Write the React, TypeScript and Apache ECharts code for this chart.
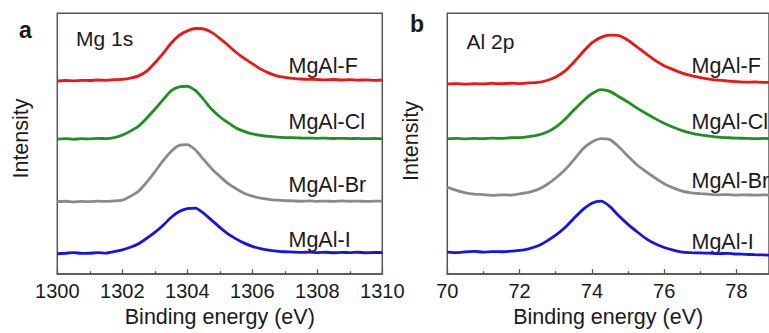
import React, { useEffect, useRef } from "react";
import * as echarts from "echarts";

// Binding energies (eV)
const energyMg = [1300, 1300.25, 1300.5, 1300.75, 1301, 1301.25, 1301.5, 1301.75, 1302, 1302.25, 1302.5, 1302.75, 1303, 1303.25, 1303.5, 1303.75, 1304, 1304.25, 1304.5, 1304.75, 1305, 1305.25, 1305.5, 1305.75, 1306, 1306.25, 1306.5, 1306.75, 1307, 1307.25, 1307.5, 1307.75, 1308, 1308.25, 1308.5, 1308.75, 1309, 1309.25, 1309.5, 1309.75, 1310];
const energyAl = [70, 70.25, 70.5, 70.75, 71, 71.25, 71.5, 71.75, 72, 72.25, 72.5, 72.75, 73, 73.25, 73.5, 73.75, 74, 74.25, 74.5, 74.75, 75, 75.25, 75.5, 75.75, 76, 76.25, 76.5, 76.75, 77, 77.25, 77.5, 77.75, 78, 78.25, 78.5, 78.75, 79];

// Mg 1s spectra (offset intensities, a.u.)
const mgF = [194.5, 195, 194.7, 195.2, 195, 195.5, 195.2, 195.8, 196.2, 197.4, 199.7, 204.5, 212.7, 222, 232.5, 240.5, 245, 247.4, 247, 243.5, 237.5, 230.5, 223.5, 217.2, 212, 206.7, 202.7, 199.7, 198.2, 197.2, 196.5, 196.2, 196, 195.7, 196, 195.5, 195.8, 195.4, 195.6, 195.2, 195.5];
const mgCl = [136, 136.5, 135.8, 136.4, 136.2, 136.7, 136.5, 137.4, 140, 144, 149, 157, 166, 175.5, 184.5, 188.5, 189.2, 185, 176, 166, 158.5, 152.5, 147.2, 143.7, 141.2, 139.8, 138.7, 138, 137.5, 137.4, 137.1, 137, 136.8, 137, 136.6, 136.8, 136.5, 136.7, 136.4, 136.6, 136.5];
const mgBr = [73, 73.4, 72.7, 73.2, 73, 73.5, 73.2, 73.7, 74.5, 78.5, 83.5, 92.5, 103, 114, 123.5, 129.7, 130.5, 125, 115.5, 106.2, 98.5, 91.3, 86, 81.5, 78.5, 76.5, 75.3, 74.5, 74, 73.8, 73.4, 73.7, 73.3, 73.6, 73.2, 73.7, 73.4, 73.6, 73.2, 73.5, 73.4];
const mgI = [20.5, 21, 21.7, 20.8, 21, 21.6, 21.2, 22.7, 24.5, 27, 30.5, 36, 42, 49, 57, 63, 66, 66.5, 61.5, 54.3, 47, 40.5, 35.5, 31.2, 28, 25.7, 24.2, 23.2, 22.5, 22.2, 21.8, 22.2, 21.7, 22, 21.5, 21.9, 21.6, 22, 21.5, 21.8, 21.7];

// Al 2p spectra (offset intensities, a.u.)
const alF = [193, 193.4, 192.8, 193.3, 193, 193.5, 193.2, 193.7, 193.4, 194, 194.5, 196.5, 200, 206, 215, 225.5, 234.7, 240.3, 242.5, 242, 237.3, 230.5, 223.5, 217, 211.5, 207.5, 204, 201.5, 199.5, 198, 196.8, 196, 195.3, 194.8, 195, 194.6, 194.7];
const alCl = [137.5, 137.8, 137.3, 137.7, 137.5, 138, 137.7, 138.4, 138.5, 139.5, 141, 144, 149.2, 157, 166.5, 175.5, 183, 187.2, 185.5, 180, 174.5, 168.5, 163, 157.8, 153, 149, 145.7, 143, 141.2, 140, 139, 138.5, 138, 137.8, 137.5, 137.7, 137.4];
const alBr = [88, 85, 82.5, 81.2, 80.7, 80, 80.5, 80.2, 81.5, 83, 85.7, 90.7, 97.5, 105.7, 116, 127, 134, 137.5, 136.5, 129, 119.5, 110.7, 104, 97.5, 91.7, 87.5, 84.2, 82.5, 81.7, 81, 80.5, 80.7, 80.2, 80.5, 80.1, 80.4, 80.2];
const alI = [22.3, 21.8, 22.5, 23, 22.4, 22.9, 22.7, 23.3, 24, 25.7, 28.5, 33.5, 39.5, 47, 56.5, 65.5, 72, 74, 68.5, 59, 50.5, 43, 36, 30.7, 27, 24.3, 22.3, 21.8, 21.5, 21.2, 20.8, 21, 20.4, 20.1, 19.7, 19.5, 19.2];

const sampleNames = ["MgAl-F", "MgAl-Cl", "MgAl-Br", "MgAl-I"];
const sampleColors = ["#f01414", "#1f8f1f", "#8a8a8a", "#1414e8"];
const panelTitles = ["Mg 1s", "Al 2p"];
const panelLetters = ["a", "b"];
const xTitle = "Binding energy (eV)";
const yTitle = "Intensity";

const FONT = "Arial, 'Liberation Sans', Helvetica, sans-serif";
const TEXT = "#1a1a1a";
const FRAME = "#555555";

function txt(text: string, x: number, y: number, size: number, extra: any = {}) {
  return {
    type: "text",
    x,
    y,
    rotation: extra.rotation || 0,
    style: {
      text,
      fontSize: size,
      fontFamily: FONT,
      fontWeight: extra.bold ? "bold" : "normal",
      fill: TEXT,
      align: extra.align || "left",
      verticalAlign: "middle",
      textAlign: extra.align || "left",
      textVerticalAlign: "middle",
    },
  };
}

export default function App() {
  const ref = useRef<HTMLDivElement>(null);
  useEffect(() => {
    if (!ref.current) return;
    const chart = echarts.init(ref.current, undefined, { renderer: "svg" });

    const xAxisCommon = (idx: number, min: number, max: number) => ({
      type: "value",
      gridIndex: idx,
      min,
      max,
      interval: 2,
      name: xTitle,
      nameLocation: "middle",
      nameGap: 28,
      nameTextStyle: { fontSize: 21.5, fontFamily: FONT, color: TEXT },
      axisLine: { show: true, lineStyle: { color: FRAME, width: 1.5 } },
      axisTick: { show: true, inside: true, length: 5, lineStyle: { color: FRAME, width: 1.2 } },
      minorTick: { show: true, splitNumber: 2, length: 3, lineStyle: { color: FRAME, width: 1.2 } },
      splitLine: { show: false },
      minorSplitLine: { show: false },
      axisLabel: {
        fontSize: 20,
        fontFamily: FONT,
        color: TEXT,
        margin: 7,
        showMaxLabel: idx === 0,
        formatter: (v: number) => String(v),
      },
    });
    const yAxisCommon = (idx: number, max: number) => ({
      type: "value",
      gridIndex: idx,
      min: 0,
      max,
      show: false,
    });

    const mgSets = [mgF, mgCl, mgBr, mgI];
    const alSets = [alF, alCl, alBr, alI];
    const series: any[] = [];
    mgSets.forEach((vals, i) => {
      series.push({
        type: "line",
        name: sampleNames[i] + " Mg",
        xAxisIndex: 0,
        yAxisIndex: 0,
        data: energyMg.map((e, k) => [e, vals[k]]),
        showSymbol: false,
        smooth: 0.2,
        lineStyle: { color: sampleColors[i], width: 2.8 },
        itemStyle: { color: sampleColors[i] },
      });
    });
    alSets.forEach((vals, i) => {
      series.push({
        type: "line",
        name: sampleNames[i] + " Al",
        xAxisIndex: 1,
        yAxisIndex: 1,
        data: energyAl.map((e, k) => [e, vals[k]]),
        showSymbol: false,
        smooth: 0.2,
        lineStyle: { color: sampleColors[i], width: 2.8 },
        itemStyle: { color: sampleColors[i] },
      });
    });

    const labelYA = [65.5, 121.7, 185.3, 240.3];
    const labelYB = [65.5, 121.7, 181.3, 241.7];

    const graphics: any[] = [
      txt(panelLetters[0], 19, 30, 23, { bold: true }),
      txt(panelLetters[1], 410, 23.5, 23, { bold: true }),
      txt(panelTitles[0], 76, 38.5, 21),
      txt(panelTitles[1], 466.5, 41, 21),
      txt(yTitle, 21, 138.5, 21.5, { rotation: Math.PI / 2, align: "center" }),
      txt(yTitle, 411, 141, 21.5, { rotation: Math.PI / 2, align: "center" }),
    ];
    sampleNames.forEach((n, i) => {
      graphics.push(txt(n, 288.5, labelYA[i], 21.5));
      graphics.push(txt(n, 691.5, labelYB[i], 21.5));
    });

    chart.setOption({
      animation: false,
      backgroundColor: "#ffffff",
      grid: [
        { left: 57.3, top: 13.3, width: 325, height: 262.7, show: true, borderColor: FRAME, borderWidth: 1.5, backgroundColor: "transparent" },
        { left: 447.3, top: 13.3, width: 325, height: 264.7, show: true, borderColor: FRAME, borderWidth: 1.5, backgroundColor: "transparent" },
      ],
      xAxis: [xAxisCommon(0, 1300, 1310), xAxisCommon(1, 70, 78.9)],
      yAxis: [yAxisCommon(0, 262.7), yAxisCommon(1, 264.7)],
      series,
      graphic: graphics,
    });
    return () => chart.dispose();
  }, []);
  return <div ref={ref} style={{ position: "fixed", left: 0, top: 0, width: 769, height: 333 }} />;
}
